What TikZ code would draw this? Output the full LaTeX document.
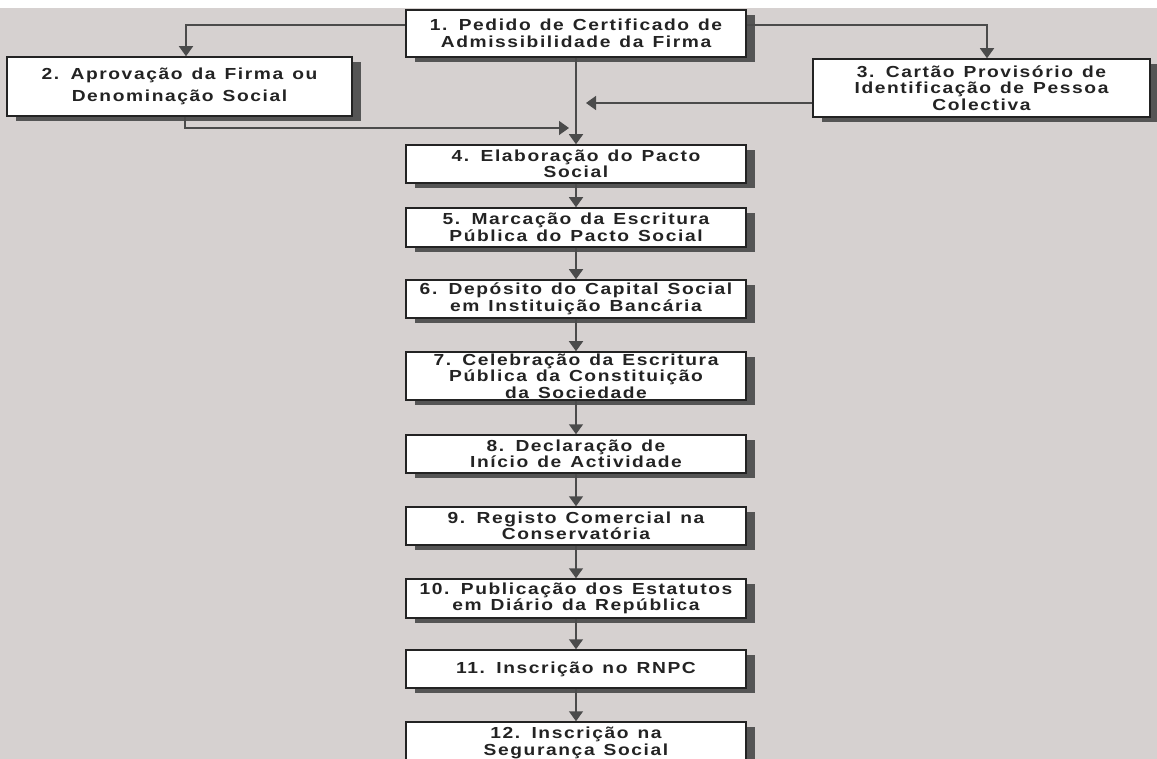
\documentclass[tikz,border=0pt]{standalone}
\usepackage{fontspec}
\newfontfamily\stepfont{Liberation Sans}[FakeStretch=1.2, LetterSpace=10, WordSpace=1.3]
\usetikzlibrary{arrows.meta,shadows}
\definecolor{paper}{RGB}{214,209,208}
\definecolor{ink}{RGB}{35,35,35}
\definecolor{wirec}{RGB}{75,75,75}
\definecolor{shd}{RGB}{85,85,85}
\tikzset{
    stepbox/.style={draw=ink, line width=1.5pt, fill=white, align=center,
        text=ink, inner sep=0pt, minimum width=340,
        font=\stepfont\bfseries\fontsize{16}{16.5}\selectfont,
        drop shadow={shadow xshift=9pt, shadow yshift=-5pt, fill=shd, opacity=1}},
    wire/.style={draw=wirec, line width=1.5pt, -{Triangle[width=14pt,length=10pt]}},
}

\begin{document}
\begin{tikzpicture}[x=1pt, y=-1pt]
    \fill[paper] (0,8) rectangle (1157,759);
    \useasboundingbox (0,0) rectangle (1157,759);
    % top row
    \node[stepbox, minimum height=47] (n-1) at (576,33.5)
        {1. Pedido de Certificado de\\Admissibilidade da Firma};
    \node[stepbox, minimum width=345, minimum height=59,
        font=\stepfont\bfseries\fontsize{16}{22}\selectfont] (n-2) at (179.5,86.5)
        {2. Aprovação da Firma ou\\Denominação Social};
    \node[stepbox, minimum width=337, minimum height=58] (n-3) at (981.5,88)
        {3. Cartão Provisório de\\Identificação de Pessoa\\Colectiva};
    % main column
    \foreach[count=\i from 4] \yc/\hh/\txt in {
        164/38/{4. Elaboração do Pacto\\Social},
        227.5/39/{5. Marcação da Escritura\\Pública do Pacto Social},
        299/38/{6. Depósito do Capital Social\\em Instituição Bancária},
        376/48/{7. Celebração da Escritura\\Pública da Constituição\\da Sociedade},
        454/38/{8. Declaração de\\Início de Actividade},
        526/38/{9. Registo Comercial na\\Conservatória},
        598.5/39/{10. Publicação dos Estatutos\\em Diário da República},
        669/38/{11. Inscrição no RNPC},
        743/42/{12. Inscrição na\\Segurança Social}} {
        \node[stepbox, minimum height=\hh] (n-\i) at (576,\yc) {\txt};
    }
    \coordinate (m-3) at (586,103);
    \coordinate (m-2) at (569,128);
    \draw[wire] ([yshift=8.5pt]n-1.west) -| ([xshift=6.5pt]n-2.north);
    \draw[wire] ([yshift=8.5pt]n-1.east) -| ([xshift=5.5pt]n-3.north);
    \draw[wire] (n-3.west |- m-3) -- (m-3);
    \draw[wire] ([xshift=5.5pt]n-2.south) |- (m-2);
    \draw[wire] (n-1) -- (n-4);
    \foreach[count=\j from 5] \i in {4,...,11}
        \draw[wire] (n-\i) -- (n-\j);
\end{tikzpicture}
\end{document}
